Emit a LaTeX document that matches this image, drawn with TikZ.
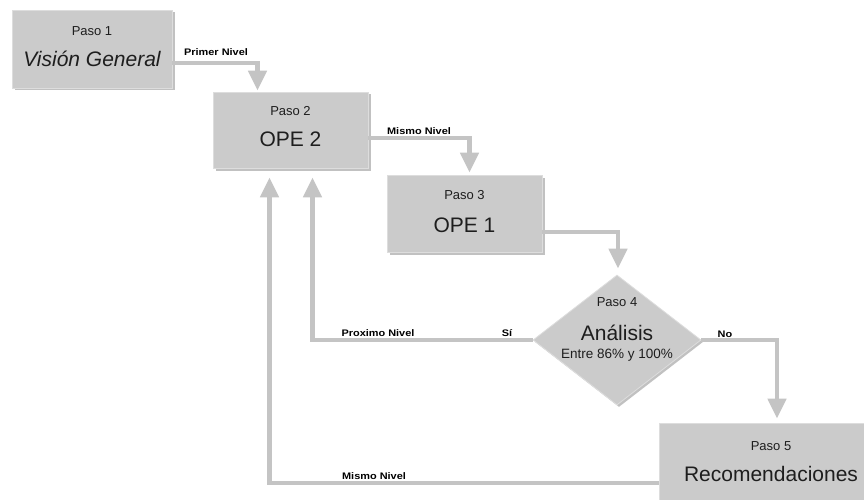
\documentclass[tikz,border=0pt]{standalone}
\usepackage{fontspec}
\setmainfont{Liberation Sans}
\usetikzlibrary{arrows.meta,shapes.geometric,shadows,calc}
\definecolor{boxgray}{HTML}{CBCBCB}
\definecolor{edgegray}{HTML}{DDDDDD}
\definecolor{conngray}{HTML}{C4C4C4}
\definecolor{txt}{HTML}{1E1E1E}
\tikzset{
  box/.style={fill=boxgray, draw=edgegray, line width=0.8pt, inner sep=0pt,
    drop shadow={shadow xshift=2.5pt, shadow yshift=-2.5pt, opacity=0.4, fill=black!60}},
  dia/.style={diamond, fill=boxgray, draw=edgegray, line width=0.8pt, inner sep=0pt,
    minimum width=168pt, minimum height=130pt,
    drop shadow={shadow xshift=2pt, shadow yshift=-2pt, opacity=0.4, fill=black!60}},
  conn/.style={draw=conngray, line width=4.5pt,
    -{Triangle[width=18pt,length=20pt,fill=conngray]}},
  small/.style={text=txt, font=\fontsize{13}{15}\selectfont, inner sep=0pt},
  big/.style={text=txt, font=\fontsize{21}{24}\selectfont, inner sep=0pt},
  lbl/.style={text=black, font=\fontsize{9.5}{11}\selectfont\bfseries, inner sep=0pt, xscale=1.15},
}
\begin{document}
\begin{tikzpicture}[x=1pt,y=-1pt]
\useasboundingbox (0,0) rectangle (864,500);
\clip (0,0) rectangle (864,500);
\fill[white] (0,0) rectangle (864,500);

% boxes
\node[box, minimum width=160pt, minimum height=78pt] (b1) at (92,49) {};
\node[box, minimum width=155pt, minimum height=76pt] (b2) at (290.5,130) {};
\node[box, minimum width=155pt, minimum height=77pt] (b3) at (464.5,213.5) {};
\node[dia] (d) at (617,340) {};
\node[box, minimum width=224pt, minimum height=90pt] (b5) at (771,468) {};

% texts
\node[small] (t1a) at ($(b1.center)+(0,-18)$) {Paso 1};
\node[big, font=\fontsize{21}{24}\selectfont\itshape] (t1b) at ($(b1.center)+(0,10)$) {Visión General};
\node[small] (t2a) at ($(b2.center)+(0,-19)$) {Paso 2};
\node[big] (t2b) at ($(b2.center)+(0,9)$) {OPE 2};
\node[small] (t3a) at ($(b3.center)+(0,-18)$) {Paso 3};
\node[big] (t3b) at ($(b3.center)+(0,12)$) {OPE 1};
\node[small] (t4a) at ($(d.center)+(0,-38)$) {Paso 4};
\node[big] (t4b) at ($(d.center)+(0,-7)$) {Análisis};
\node[small, font=\fontsize{13.5}{15}\selectfont] (t4c) at ($(d.center)+(0,15)$) {Entre 86\% y 100\%};
\node[small] (t5a) at (771,446) {Paso 5};
\node[big, font=\fontsize{21}{24}\selectfont] (t5b) at (771,474) {Recomendaciones};

% connectors
\draw[conn] ($(b1.east)+(0,14)$) -| ($(b2.north)+(-33,-1)$);
\draw[conn] ($(b2.east)+(0,8)$) -| ($(b3.north)+(5,-2)$);
\draw[conn] ($(b3.east)+(0,18.5)$) -| ($(d.north)+(1,-6)$);
\draw[conn] (d.east) -| ($(b5.north)+(6,-4)$);
\draw[conn] (d.west) -| ($(b2.south)+(22,9)$);
\draw[conn] ($(b5.west)+(0,15)$) -| ($(b2.south)+(-21,9)$);

% connector labels
\node[lbl] (l1) at (216,52) {Primer Nivel};
\node[lbl] (l2) at (419,131) {Mismo Nivel};
\node[lbl] (l3) at (378,333) {Proximo Nivel};
\node[lbl] (l4) at (507,333) {Sí};
\node[lbl] (l5) at (725,334) {No};
\node[lbl] (l6) at (374,476) {Mismo Nivel};
\end{tikzpicture}
\end{document}
